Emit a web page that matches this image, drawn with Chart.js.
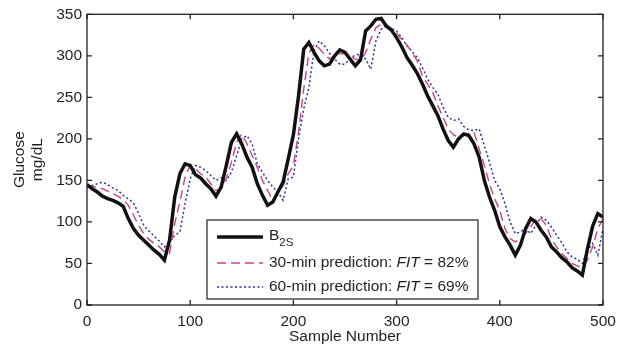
<!DOCTYPE html>
<html>
<head>
<meta charset="utf-8">
<script src="https://cdn.jsdelivr.net/npm/chart.js@4"></script>
<style>
  html, body { margin: 0; padding: 0; background: #fff; }
  #wrap { width: 626px; height: 346px; }
</style>
</head>
<body>
<div id="wrap"><canvas id="js-glucose-chart"></canvas></div>
<script>
const sampleNumbers = Array.from({ length: 101 }, (_, i) => i * 5);

const b2sValues = [
  145, 140, 136, 131, 128, 126, 123, 119, 104, 92,
  84, 78, 72, 66, 61, 54, 78, 130, 158, 170,
  168, 157, 153, 146, 140, 131, 142, 168, 196, 206,
  194, 178, 166, 146, 132, 120, 124, 136, 148, 176,
  205, 252, 308, 316, 304, 294, 288, 290, 300, 307,
  304, 296, 288, 295, 330, 336, 344, 345, 336, 331,
  322, 311, 298, 289, 279, 266, 252, 240, 228, 212,
  198, 190, 200, 206, 204, 194, 178, 150, 130, 114,
  94, 82, 72, 60, 72, 92, 104, 100, 90, 82,
  70, 64, 57, 52, 45, 41, 36, 68, 95, 110,
  106
];

const pred30Values = [
  144, 143, 141, 140, 137, 134, 131, 127, 120, 108,
  96, 86, 79, 74, 70, 64, 62, 98, 124, 154,
  168, 164, 158, 154, 146, 138, 140, 152, 172, 196,
  206, 194, 180, 166, 150, 138, 126, 134, 144, 158,
  168, 208, 260, 303, 314, 309, 302, 296, 300, 302,
  303, 300, 296, 294, 304, 320, 334, 338, 337, 333,
  327, 320, 313, 304, 294, 276, 266, 256, 240, 226,
  212, 205, 202, 204, 207, 208, 188, 168, 146, 128,
  114, 92, 80, 76, 80, 86, 94, 104, 104, 96,
  80, 70, 62, 56, 50, 47, 45, 54, 70, 92,
  104
];

const pred60Values = [
  142, 144, 146, 148, 145, 141, 138, 132, 128, 123,
  110, 96, 89, 83, 77, 70, 76, 84, 88, 122,
  152, 168, 166, 162, 156, 150, 153, 150, 160, 180,
  200, 204, 194, 170, 160, 150, 142, 136, 126, 152,
  154, 200, 236, 262, 306, 318, 312, 303, 296, 290,
  290, 297, 301, 302, 296, 284, 318, 332, 336, 333,
  330, 322, 312, 305, 298, 286, 272, 262, 254, 238,
  226, 222, 224, 215, 211, 210, 212, 192, 172, 150,
  140, 122, 100, 86, 88, 92, 86, 96, 106, 102,
  94, 84, 75, 64, 58, 55, 50, 66, 74, 60,
  92
];

const xTicks = [0, 100, 200, 300, 400, 500];
const yTicks = [0, 50, 100, 150, 200, 250, 300, 350];

const toPoints = (values) => values.map((v, i) => ({ x: sampleNumbers[i], y: v }));

const FONT = '"Liberation Sans", Arial, Helvetica, sans-serif';
const INK = '#231f20';

Chart.defaults.font.family = FONT;
Chart.defaults.font.size = 15.5;
Chart.defaults.color = INK;

// box round the plot, inward ticks on all four sides, and the legend box
const matlabFrame = {
  id: 'matlabFrame',
  afterDatasetsDraw(chart) {
    const { ctx, chartArea: a, scales } = chart;
    ctx.save();
    ctx.strokeStyle = INK;
    ctx.lineWidth = 1.3;
    ctx.strokeRect(a.left, a.top, a.right - a.left, a.bottom - a.top);

    for (const v of xTicks) {
      const px = scales.x.getPixelForValue(v);
      ctx.beginPath();
      ctx.moveTo(px, a.bottom); ctx.lineTo(px, a.bottom - 5);
      ctx.moveTo(px, a.top); ctx.lineTo(px, a.top + 5);
      ctx.stroke();
    }
    for (const v of yTicks) {
      const py = scales.y.getPixelForValue(v);
      ctx.beginPath();
      ctx.moveTo(a.left, py); ctx.lineTo(a.left + 5, py);
      ctx.moveTo(a.right, py); ctx.lineTo(a.right - 5, py);
      ctx.stroke();
    }

    // legend
    const lx = 207, ly = 220, lw = 271, lh = 79;
    ctx.fillStyle = '#fff';
    ctx.fillRect(lx, ly, lw, lh);
    ctx.lineWidth = 1.2;
    ctx.strokeRect(lx, ly, lw, lh);

    const sets = chart.data.datasets;
    const rows = [237, 263, 287];
    sets.forEach((ds, i) => {
      ctx.beginPath();
      ctx.strokeStyle = ds.borderColor;
      ctx.lineWidth = ds.borderWidth;
      ctx.setLineDash(ds.borderDash || []);
      ctx.moveTo(217, rows[i]);
      ctx.lineTo(263, rows[i]);
      ctx.stroke();
    });
    ctx.setLineDash([]);

    ctx.fillStyle = INK;
    ctx.textBaseline = 'middle';
    ctx.textAlign = 'left';
    ctx.font = `15.5px ${FONT}`;
    ctx.fillText('B', 269, rows[0] - 1);
    const bw = ctx.measureText('B').width;
    ctx.font = `11.5px ${FONT}`;
    ctx.fillText('2S', 269 + bw, rows[0] + 6);

    const fitLine = (y, pre, post) => {
      let x = 269;
      ctx.font = `15.5px ${FONT}`;
      ctx.fillText(pre, x, y);
      x += ctx.measureText(pre).width;
      ctx.font = `italic 15.5px ${FONT}`;
      ctx.fillText('FIT', x, y);
      x += ctx.measureText('FIT').width;
      ctx.font = `15.5px ${FONT}`;
      ctx.fillText(post, x, y);
    };
    fitLine(rows[1], '30-min prediction: ', ' = 82%');
    fitLine(rows[2], '60-min prediction: ', ' = 69%');
    ctx.restore();
  }
};

const glucoseData = {
  datasets: [{
    label: 'B2S',
    data: toPoints(b2sValues),
    borderColor: '#111111',
    borderWidth: 3.5,
    pointRadius: 0,
    tension: 0,
    order: 1
  }, {
    label: '30-min prediction: FIT = 82%',
    data: toPoints(pred30Values),
    borderColor: '#c8457f',
    borderWidth: 1.4,
    borderDash: [9, 5],
    pointRadius: 0,
    tension: 0,
    order: 2
  }, {
    label: '60-min prediction: FIT = 69%',
    data: toPoints(pred60Values),
    borderColor: '#2b2f9e',
    borderWidth: 1.5,
    borderDash: [2, 2.5],
    pointRadius: 0,
    tension: 0,
    order: 3
  }]
};

const glucoseConfig = {
  type: 'line',
  data: glucoseData,
  options: {
    responsive: true,
    maintainAspectRatio: false,
    animation: false,
    layout: {
      padding: { top: 13, right: 23, left: 0, bottom: 0 }
    },
    scales: {
      x: {
        type: 'linear',
        min: 0,
        max: 500,
        afterBuildTicks: (scale) => { scale.ticks = xTicks.map(v => ({ value: v })); },
        afterFit: (scale) => { scale.height = 41; },
        grid: { display: false, drawTicks: false, tickLength: 0 },
        border: { display: false },
        ticks: { padding: 7, color: INK, font: { size: 15.5 } },
        title: {
          display: true,
          text: 'Sample Number',
          color: INK,
          font: { size: 15.5 },
          padding: { top: 0, bottom: 0 }
        }
      },
      y: {
        min: 0,
        max: 350,
        afterBuildTicks: (scale) => { scale.ticks = yTicks.map(v => ({ value: v })); },
        afterFit: (scale) => { scale.width = 87; },
        grid: { display: false, drawTicks: false, tickLength: 0 },
        border: { display: false },
        ticks: { padding: 5, color: INK, font: { size: 15.5 } },
        title: {
          display: true,
          text: ['Glucose', 'mg/dL'],
          color: INK,
          font: { size: 15.5, lineHeight: 1.15 },
          padding: { top: 11, bottom: 0 }
        }
      }
    },
    plugins: {
      legend: { display: false },
      tooltip: { enabled: false }
    }
  },
  plugins: [matlabFrame]
};

new Chart(document.querySelector('#js-glucose-chart'), glucoseConfig);
</script>
</body>
</html>
